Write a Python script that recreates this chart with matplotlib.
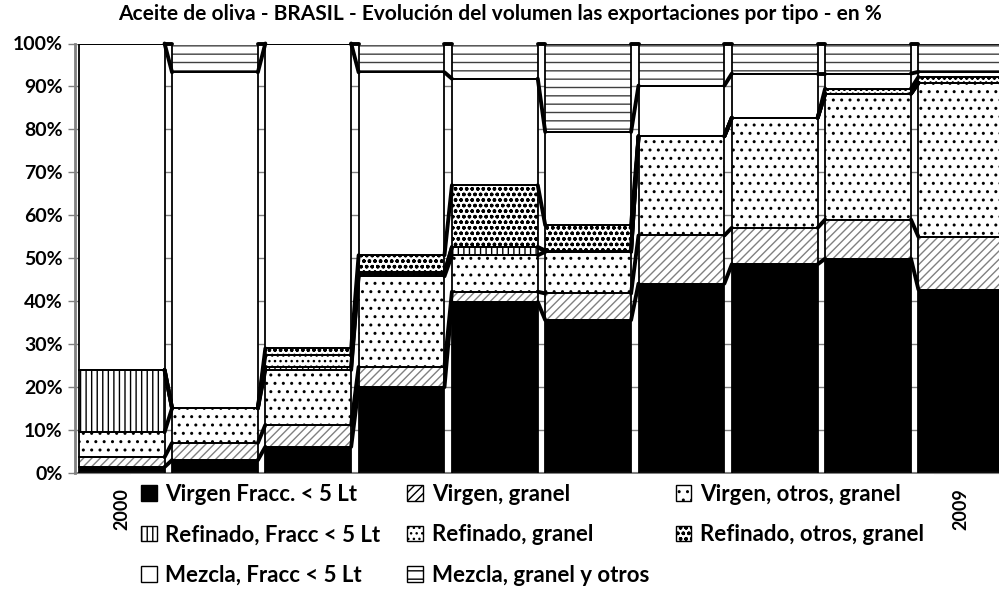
import numpy as np
import matplotlib
matplotlib.use("Agg")
import matplotlib.pyplot as plt
import matplotlib.patches as mpatches

plt.rcParams['font.family'] = ['Lato', 'DejaVu Sans']
plt.rcParams['font.weight'] = 'bold'
plt.rcParams['hatch.linewidth'] = 1.0

years = ['2000', '2001', '2002', '2003', '2004', '2005', '2006', '2007', '2008', '2009']

# % share of each export type, bottom to top
virgen_fracc = [1.4, 3.0, 6.1, 20.0, 39.8, 35.6, 44.1, 48.6, 49.9, 42.7]
virgen_granel = [2.3, 4.0, 5.1, 4.7, 2.4, 6.2, 11.2, 8.5, 9.1, 12.3]
virgen_otros = [5.8, 8.1, 12.8, 21.1, 8.5, 9.7, 23.1, 25.6, 29.3, 35.8]
refinado_fracc = [14.5, 0.0, 0.7, 0.5, 1.9, 0.0, 0.0, 0.0, 0.0, 0.0]
refinado_granel = [0.0, 0.0, 2.7, 0.5, 0.0, 0.3, 0.0, 0.0, 0.0, 0.0]
refinado_otros = [0.0, 0.0, 1.6, 3.9, 14.4, 5.9, 0.0, 0.0, 1.2, 1.4]
mezcla_fracc = [76.0, 78.2, 71.0, 42.6, 24.8, 21.7, 11.8, 10.3, 3.5, 1.2]
mezcla_granel = [0.0, 6.7, 0.0, 6.7, 8.2, 20.6, 9.8, 7.0, 7.0, 6.6]

labels = ['Virgen Fracc. < 5 Lt', 'Virgen, granel', 'Virgen, otros, granel',
          'Refinado, Fracc < 5 Lt', 'Refinado, granel', 'Refinado, otros, granel',
          'Mezcla, Fracc < 5 Lt', 'Mezcla, granel y otros']
series = [virgen_fracc, virgen_granel, virgen_otros, refinado_fracc,
          refinado_granel, refinado_otros, mezcla_fracc, mezcla_granel]

# (facecolor, hatch, hatch colour)
styles = [('black', None, 'black'),
          ('white', '////', '#808080'),
          ('white', '..', 'black'),
          ('white', '|||', 'black'),
          ('white', '...', 'black'),
          ('white', 'ooo', 'black'),
          ('white', None, 'black'),
          ('white', '--', '#404040')]

fig = plt.figure(figsize=(9.99, 5.90), dpi=100)
ax = fig.add_axes([75 / 999, 117 / 590, 933 / 999, 429.5 / 590])

x = np.arange(len(years))
w = 0.92
bottom = np.zeros(len(years))
tops = []
handles = []
for vals, (fc, hatch, hc), lab in zip(series, styles, labels):
    vals = np.array(vals)
    ax.bar(x, vals, w, bottom=bottom, color=fc, edgecolor=hc, hatch=hatch,
           linewidth=0, zorder=2)
    ax.bar(x, vals, w, bottom=bottom, facecolor='none', edgecolor='black',
           linewidth=1.3, zorder=3)
    bottom = bottom + vals
    tops.append(bottom.copy())
    handles.append(mpatches.Patch(facecolor=fc, edgecolor='black', hatch=hatch,
                                  linewidth=1.0, label=lab))

# series lines between the bars
for cum in tops:
    for i in range(len(years) - 1):
        ax.plot([i + w / 2, i + 1 - w / 2], [cum[i], cum[i + 1]], color='black',
                lw=2.8, solid_capstyle='round', zorder=4, clip_on=False)

ax.set_xlim(-0.5, 9.5)
ax.set_ylim(0, 100)
ax.set_yticks(np.arange(0, 101, 10))
ax.set_yticklabels([f'{v}%' for v in range(0, 101, 10)], fontsize=14, fontweight='bold')
ax.set_xticks(x)
ax.set_xticklabels(years, rotation=90, fontsize=13, fontweight='bold')
# the legend box hides the middle year labels in the original
for lbl in ax.get_xticklabels()[1:-1]:
    lbl.set_visible(False)
ax.tick_params(axis='y', length=5, color='#808080', width=1, pad=4)
ax.tick_params(axis='x', length=0, pad=11)
ax.yaxis.grid(True, color='#808080', lw=1, zorder=0)
ax.set_axisbelow(True)
for s in ['top', 'right']:
    ax.spines[s].set_visible(False)
ax.spines['left'].set_color('#808080')
ax.spines['left'].set_linewidth(2)
ax.spines['bottom'].set_color('#808080')
ax.spines['bottom'].set_linewidth(1.5)

fig.text(0.5, 1 - 14 / 590, 'Aceite de oliva - BRASIL - Evolución del volumen las exportaciones por tipo - en %',
         ha='center', va='center', fontsize=15, fontweight='bold')

order = [0, 3, 6, 1, 4, 7, 2, 5]
leg = fig.legend([handles[i] for i in order], [labels[i] for i in order], ncol=3,
                 loc='upper left', bbox_to_anchor=(131 / 999, 1 - 474 / 590),
                 bbox_transform=fig.transFigure, frameon=True, facecolor='white',
                 edgecolor='none', framealpha=1, fancybox=False,
                 prop={'size': 16, 'weight': 'bold'}, handlelength=0.7,
                 handleheight=0.7, handletextpad=0.4, columnspacing=1.2,
                 labelspacing=0.87, borderpad=0.45, borderaxespad=0)
leg.get_frame().set_linewidth(0)

fig.savefig('out.png', dpi=100)
